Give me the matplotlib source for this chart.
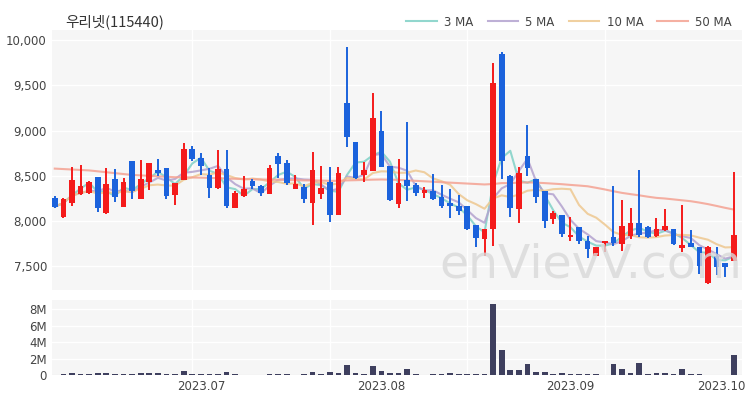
import numpy as np
import pandas as pd
import matplotlib
matplotlib.use("Agg")
import matplotlib.pyplot as plt
from matplotlib.ticker import FuncFormatter
from matplotlib.transforms import ScaledTranslation

# daily OHLC (won)
opens = [8260, 8050, 8200, 8300, 8310, 8490, 8090, 8460, 8160, 8660,
         8250, 8430, 8570, 8590, 8290, 8450, 8800, 8700, 8510, 8370,
         8580, 8150, 8280, 8440, 8390, 8300, 8720, 8640, 8360, 8380,
         8200, 8300, 8430, 8070, 9300, 8870, 8510, 8550, 8990, 8610,
         8190, 8450, 8400, 8310, 8330, 8270, 8200, 8170, 8170, 7960,
         7800, 7910, 9840, 8500, 8130, 8720, 8470, 8330, 8020, 8070,
         7820, 7930, 7780, 7610, 7760, 7830, 7750, 7840, 7980, 7940,
         7840, 7900, 7910, 7700, 7760, 7720, 7320, 7620, 7540, 7560]
highs = [8280, 8260, 8600, 8620, 8440, 8490, 8590, 8580, 8480, 8660,
         8670, 8640, 8690, 8590, 8420, 8860, 8830, 8750, 8590, 8790,
         8790, 8330, 8500, 8460, 8400, 8620, 8750, 8680, 8510, 8410,
         8760, 8610, 8600, 8600, 9920, 8870, 8650, 9420, 9220, 8610,
         8690, 9090, 8420, 8380, 8520, 8400, 8350, 8290, 8170, 7960,
         7910, 9750, 9870, 8510, 8600, 9060, 8470, 8330, 8110, 8070,
         8050, 7930, 7840, 7720, 7780, 8390, 8230, 8150, 8570, 7950,
         8030, 8130, 7910, 8180, 7900, 7720, 7730, 7720, 7540, 8540]
lows = [8140, 8030, 8170, 8290, 8300, 8100, 8080, 8210, 8160, 8250,
        8250, 8340, 8500, 8240, 8180, 8450, 8660, 8510, 8260, 8360,
        8140, 8140, 8270, 8350, 8280, 8300, 8480, 8400, 8360, 8200,
        7960, 8250, 7990, 8070, 8820, 8460, 8430, 8550, 8600, 8220,
        8140, 8220, 8280, 8260, 8230, 8150, 8040, 8070, 7900, 7720,
        7620, 7730, 8460, 8050, 7980, 8500, 8200, 7920, 7970, 7820,
        7780, 7750, 7590, 7610, 7660, 7730, 7670, 7800, 7820, 7810,
        7820, 7890, 7740, 7660, 7710, 7420, 7310, 7410, 7380, 7560]
closes = [8160, 8240, 8450, 8390, 8430, 8150, 8410, 8270, 8430, 8330,
          8460, 8640, 8530, 8280, 8420, 8800, 8690, 8610, 8370, 8580,
          8170, 8310, 8360, 8390, 8310, 8590, 8630, 8420, 8410, 8250,
          8570, 8370, 8070, 8530, 8930, 8480, 8560, 9140, 8600, 8230,
          8420, 8390, 8310, 8340, 8250, 8170, 8170, 8110, 7910, 7810,
          7910, 9520, 8660, 8150, 8530, 8590, 8270, 8000, 8090, 7860,
          7850, 7780, 7690, 7720, 7780, 7760, 7950, 7980, 7850, 7820,
          7910, 7950, 7750, 7740, 7720, 7510, 7720, 7490, 7490, 7850]
ma50 = [8580, 8575, 8570, 8565, 8560, 8550, 8540, 8530, 8520, 8510,
        8505, 8500, 8495, 8490, 8485, 8485, 8482, 8480, 8478, 8475,
        8470, 8468, 8465, 8462, 8460, 8458, 8458, 8455, 8452, 8450,
        8450, 8448, 8445, 8445, 8450, 8452, 8455, 8458, 8460, 8458,
        8455, 8450, 8445, 8440, 8435, 8430, 8425, 8420, 8415, 8410,
        8405, 8410, 8420, 8420, 8425, 8428, 8425, 8420, 8414, 8408,
        8400, 8393, 8385, 8368, 8350, 8330, 8312, 8298, 8285, 8270,
        8257, 8250, 8240, 8230, 8220, 8205, 8188, 8168, 8147, 8128]
# volume, millions of shares
volume = [0.05, 0.08, 0.28, 0.15, 0.08, 0.20, 0.20, 0.10, 0.10, 0.10,
          0.30, 0.30, 0.25, 0.08, 0.10, 0.45, 0.12, 0.15, 0.15, 0.12,
          0.35, 0.08, 0.06, 0.06, 0.05, 0.12, 0.12, 0.10, 0.05, 0.08,
          0.40, 0.12, 0.35, 0.25, 1.20, 0.20, 0.15, 1.10, 0.45, 0.20,
          0.20, 0.75, 0.08, 0.06, 0.15, 0.15, 0.20, 0.10, 0.15, 0.10,
          0.08, 8.60, 3.00, 0.60, 0.55, 1.30, 0.35, 0.35, 0.10, 0.20,
          0.15, 0.15, 0.15, 0.08, 0.06, 1.35, 0.75, 0.20, 1.50, 0.15,
          0.30, 0.20, 0.10, 0.75, 0.10, 0.10, 0.05, 0.05, 0.05, 2.40]

holidays = ["2023-08-15", "2023-09-28", "2023-09-29", "2023-10-02", "2023-10-03"]
dates = pd.bdate_range("2023-06-08", "2023-10-04")
dates = dates[~dates.isin(pd.to_datetime(holidays))]

n = len(closes)
x = np.arange(n)
o, h, l, c = map(np.array, (opens, highs, lows, closes))
close_s = pd.Series(c, dtype=float)
ma3 = close_s.rolling(3, min_periods=1).mean()
ma5 = close_s.rolling(5, min_periods=1).mean()
ma10 = close_s.rolling(10, min_periods=1).mean()

UP, DOWN = "#f41b1b", "#1b62dc"
BG = "#f6f6f6"

fig = plt.figure(figsize=(7.5, 4), dpi=100)
ax = fig.add_axes([0.069, 0.275, 0.92, 0.65])
axv = fig.add_axes([0.069, 0.0625, 0.92, 0.1875])

for a in (ax, axv):
    a.set_facecolor(BG)
    for s in a.spines.values():
        s.set_visible(False)
    a.tick_params(length=0, labelsize=8.5, labelcolor="#444444")
    a.set_xlim(-0.35, n - 0.07)
    for g in (16, 32, 48, 64):
        a.axvline(g, color="white", lw=1, zorder=0)

# moving averages
ax.plot(x, ma3, color="#7fd1c6", lw=1.5, alpha=0.85, label="3 MA", zorder=2)
ax.plot(x, ma5, color="#b3a2cf", lw=1.5, alpha=0.85, label="5 MA", zorder=2)
ax.plot(x, ma10, color="#eec890", lw=1.5, alpha=0.85, label="10 MA", zorder=2)
ax.plot(x, ma50, color="#f4a292", lw=1.5, alpha=0.85, label="50 MA", zorder=2)

# candles
colors = np.where(c >= o, UP, DOWN)
ax.vlines(x, l, h, colors=colors, lw=1.4, zorder=3)
ax.bar(x, np.abs(c - o).clip(min=12), bottom=np.minimum(o, c), width=0.66,
       color=colors, zorder=4)

ax.set_ylim(7240, 10110)
ax.set_yticks([7500, 8000, 8500, 9000, 9500, 10000])
ax.yaxis.set_major_formatter(FuncFormatter(lambda v, p: f"{v:,.0f}"))
ax.grid(axis="y", color="white", lw=1)
ax.set_axisbelow(True)
ax.set_xticks([])

fig.text(0.787, 0.3075, "enVievV.com", fontsize=34, color="#d9d9d9",
         ha="center", va="baseline", alpha=0.8, zorder=1)

axv.bar(x, volume, width=0.66, color="#3e3f5e", zorder=3)
axv.set_ylim(0, 9.1)
axv.set_yticks([0, 2, 4, 6, 8])
axv.yaxis.set_major_formatter(FuncFormatter(lambda v, p: "0" if v == 0 else f"{v:.0f}M"))
axv.grid(axis="y", color="white", lw=1)
axv.axhline(0, color="#cccccc", lw=0.8, zorder=2)
axv.set_axisbelow(True)

months = pd.Series(dates.strftime("%Y.%m"))
first = months.drop_duplicates()
first = first[first.index > 0]
axv.set_xticks(first.index)
axv.set_xticklabels(first.values)
# last label is pulled inside the frame
shift = ScaledTranslation(-0.12, 0, fig.dpi_scale_trans)
for t, idx in zip(axv.get_xticklabels(), first.index):
    if idx == n - 1:
        t.set_transform(t.get_transform() + shift)

fig.text(0.087, 0.945, "우리넷(115440)", fontsize=10.5, color="#333333",
         family=["Noto Sans CJK KR", "DejaVu Sans"], va="center")
fig.legend(loc="center right", bbox_to_anchor=(0.99, 0.945), ncol=4, frameon=False,
           fontsize=8.5, handlelength=2.6, columnspacing=1.2, handletextpad=0.6,
           labelcolor="#444444")

fig.savefig("out.png", dpi=100)
